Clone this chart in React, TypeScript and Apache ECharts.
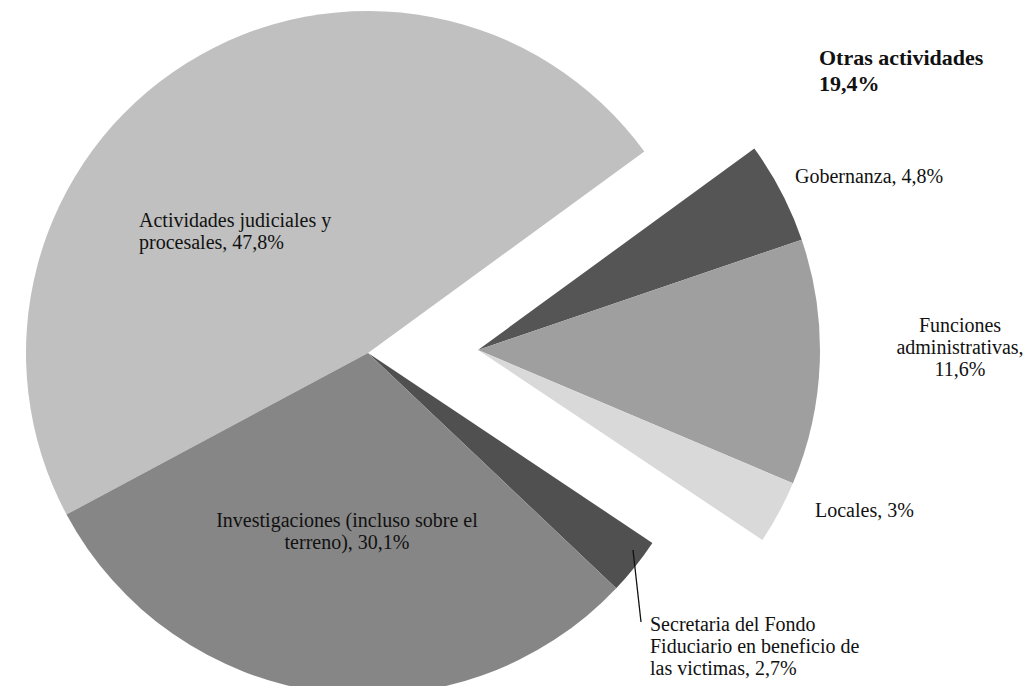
import React, { useEffect, useRef } from "react";
import * as echarts from "echarts";

// Main pie categories and values (% of total)
const mainNames = [
  "Actividades judiciales y\nprocesales",
  "Otras actividades",
  "Secretaria del Fondo\nFiduciario en beneficio de\nlas victimas",
  "Investigaciones (incluso sobre el\nterreno)",
];
const mainValues = [47.8, 19.4, 2.7, 30.1];
const mainColors = ["#c0c0c0", "transparent", "#505050", "#868686"];

// Breakdown of "Otras actividades"
const subNames = ["Gobernanza", "Funciones\nadministrativas", "Locales"];
const subValues = [4.8, 11.6, 3];
const subColors = ["#555555", "#9f9f9f", "#d9d9d9"];

// Label anchor positions (pixels) keyed by name
const labelPos: Record<string, { x: number; y: number; align: string }> = {
  "Actividades judiciales y\nprocesales": { x: 139, y: 231, align: "left" },
  "Otras actividades": { x: 819, y: 70, align: "left" },
  "Secretaria del Fondo\nFiduciario en beneficio de\nlas victimas": { x: 650, y: 646, align: "left" },
  "Investigaciones (incluso sobre el\nterreno)": { x: 347, y: 531, align: "center" },
  Gobernanza: { x: 795, y: 176, align: "left" },
  "Funciones\nadministrativas": { x: 960, y: 347, align: "center" },
  Locales: { x: 815, y: 510, align: "left" },
};

const fmt = (v: number) => String(v).replace(".", ",");
const FONT = "'Liberation Serif', 'Times New Roman', serif";

export default function App() {
  const ref = useRef<HTMLDivElement>(null);
  useEffect(() => {
    if (!ref.current) return;
    const chart = echarts.init(ref.current, null, { renderer: "svg" });

    const mainData = mainNames.map((n, i) => ({
      name: n,
      value: mainValues[i],
      itemStyle: { color: mainColors[i] },
      label:
        n === "Otras actividades"
          ? { fontWeight: "bold", fontSize: 22, lineHeight: 26 }
          : {},
    }));

    const gapIdx = mainNames.indexOf("Otras actividades");
    const subData: any[] = [];
    mainNames.forEach((n, i) => {
      if (i === gapIdx) {
        subNames.forEach((s, j) =>
          subData.push({ name: s, value: subValues[j], itemStyle: { color: subColors[j] } })
        );
      } else {
        subData.push({
          name: "_" + n,
          value: mainValues[i],
          itemStyle: { color: "transparent" },
          label: { show: false },
        });
      }
    });

    const allData = [mainData, subData];
    const total = mainValues.reduce((a, b) => a + b, 0);
    const startAngle = 36.1 + (mainValues[0] / total) * 360;

    const labelBase = {
      show: true,
      position: "inside",
      color: "#111",
      fontFamily: FONT,
      fontSize: 20,
      lineHeight: 22,
      textBorderWidth: 0,
      textShadowBlur: 0,
      formatter: (p: any) => {
        if (p.name === "Otras actividades") return `${p.name}\n${fmt(p.value)}%`;
        if (p.name.startsWith("Funciones")) return `${p.name},\n${fmt(p.value)}%`;
        return `${p.name}, ${fmt(p.value)}%`;
      },
    };

    const common = {
      type: "pie",
      radius: 342,
      startAngle,
      clockwise: true,
      silent: true,
      avoidLabelOverlap: false,
      emphasis: { disabled: true },
      labelLine: { show: false },
      label: labelBase,
      labelLayout: (params: any) => {
        const d = allData[params.seriesIndex][params.dataIndex];
        const p = d && labelPos[d.name];
        if (!p) return {};
        return { x: p.x, y: p.y, align: p.align, verticalAlign: "middle" };
      },
    };

    chart.setOption({
      animation: false,
      backgroundColor: "#ffffff",
      series: [
        { ...common, center: [368, 353], data: mainData },
        { ...common, center: [478, 350], data: subData },
      ],
      graphic: [
        {
          type: "line",
          shape: { x1: 633, y1: 550, x2: 641, y2: 622 },
          style: { stroke: "#111", lineWidth: 1.3 },
          z: 100,
        },
      ],
    });
    return () => chart.dispose();
  }, []);
  return (
    <div
      ref={ref}
      style={{ position: "fixed", left: 0, top: 0, width: 1027, height: 686 }}
    />
  );
}
